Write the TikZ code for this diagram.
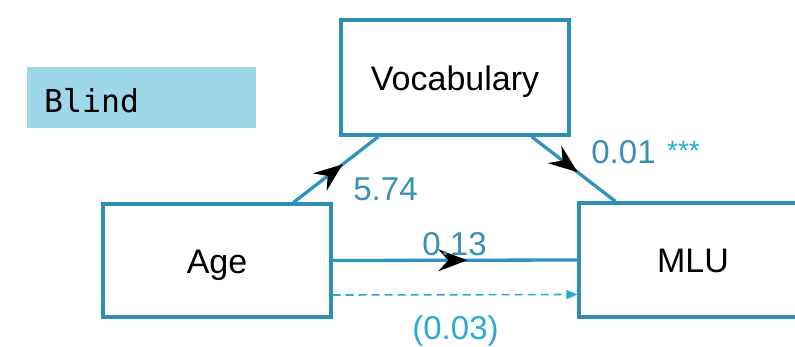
\documentclass[tikz,border=0pt]{standalone}
\usepackage{fontspec}
\setmainfont{Liberation Sans}
\newfontfamily\blindmono{DejaVu Sans Mono}
\usetikzlibrary{arrows.meta,decorations.markings,calc}
\definecolor{boxc}{HTML}{2E8FB5}
\definecolor{linec}{HTML}{3093BB}
\definecolor{lightc}{HTML}{2AA9D6}
\definecolor{labelc}{HTML}{3A8FB5}
\definecolor{blindfill}{HTML}{9ED8E8}
\tikzset{
  varbox/.style={draw=boxc, line width=3.3pt, fill=white, minimum width=228pt,
    inner sep=0pt, text height=25pt, text depth=0pt,
    font=\fontsize{34}{40}\selectfont},
  pathline/.style={draw=linec, line width=3.3pt},
  midarrow/.style={postaction={decorate}, decoration={markings,
    mark=at position #1 with {\arrow[black]{Stealth[length=29pt,width=22pt,inset=10pt]}}}},
  coef/.style={text=labelc, anchor=base, inner sep=0pt, font=\fontsize{33}{40}\selectfont},
  lightlab/.style={text=lightc, anchor=base, inner sep=0pt, font=\fontsize{33}{40}\selectfont},
}
\begin{document}
\begin{tikzpicture}[x=1pt,y=-1pt]
\useasboundingbox (0,0) rectangle (795,346);
% Blind tag
\node[fill=blindfill, anchor=north west, minimum width=229pt, minimum height=61pt,
  inner xsep=17pt, inner ysep=0pt, text width=195pt, align=left,
  text height=29pt, text depth=0pt, font=\blindmono\fontsize{31.5}{36}\selectfont]
  (blind) at (27,67) {Blind};
% boxes
\node[varbox, minimum height=115pt] (voc) at (455,77.5) {Vocabulary};
\node[varbox, minimum height=113pt] (age) at (217,260.5) {Age};
\node[varbox, minimum height=114pt] (mlu) at (693,260) {MLU};
% connectors
\draw[pathline, midarrow=0.58] ([xshift=-39pt]age.north east) -- ([xshift=39pt]voc.south west);
\draw[pathline, midarrow=0.55] ([xshift=-39pt]voc.south east) -- ([xshift=38pt]mlu.north west);
\draw[pathline, midarrow=0.55] (age.east) -- (mlu.west);
\draw[draw=lightc, line width=1.6pt, dash pattern=on 8pt off 5pt,
  -{Triangle[length=11pt,width=9pt]}] ([yshift=-34.5pt]age.east) -- ([yshift=-34.5pt]mlu.west);
% labels
\node[coef] (l574) at (385.5,200) {5.74};
\node[coef] (l001) at (623.5,163) {0.01};
\node[text=lightc, anchor=base, inner sep=0pt, font=\fontsize{28}{32}\selectfont] (stars) at (683.5,160) {***};
\node[coef] (l013) at (454.5,255) {0.13};
\node[lightlab] (l003) at (455.5,339) {(0.03)};
\end{tikzpicture}
\end{document}
